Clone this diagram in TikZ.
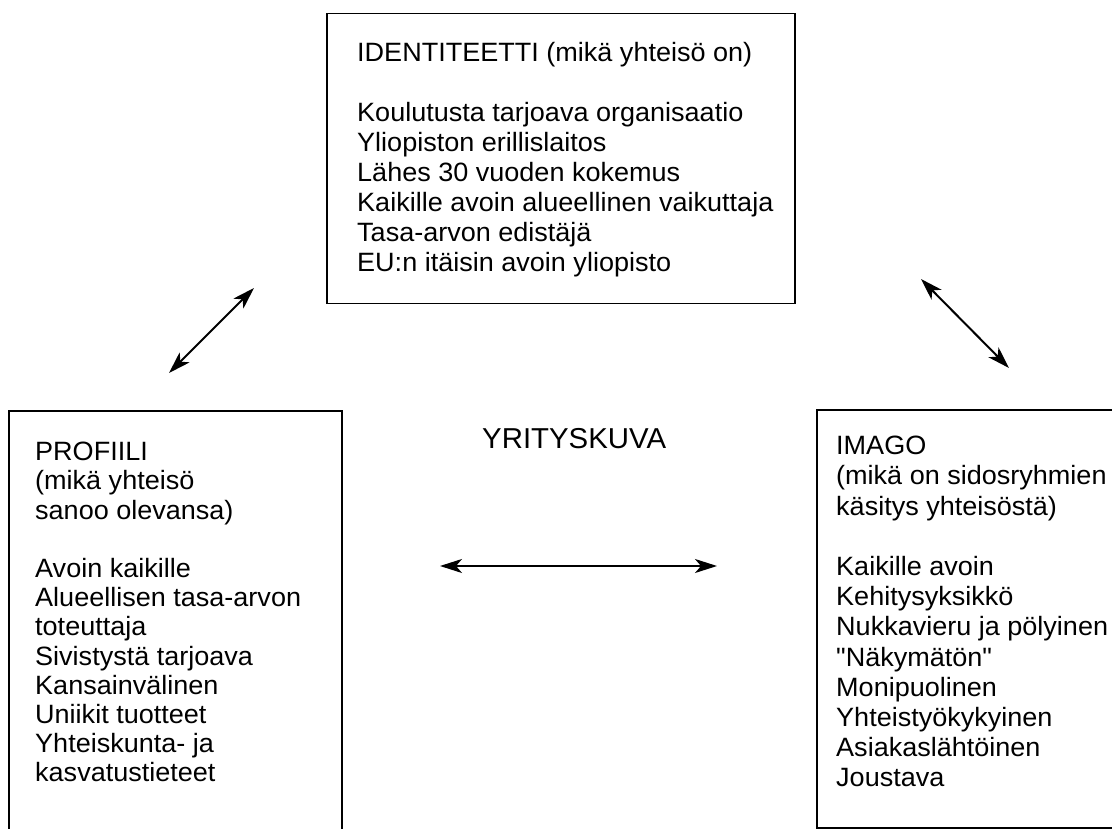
\documentclass[tikz,border=0pt]{standalone}
\usepackage{fontspec}
\setmainfont{Liberation Sans}[FakeStretch=1.02, Ligatures=TeXOff]
\usetikzlibrary{arrows.meta}
\tikzset{
  frame/.style={draw, line width=1.6pt, rectangle, inner sep=0pt},
  txt/.style={anchor=north west, align=left, inner sep=0pt, font={\fontsize{26.5}{30}\selectfont}},
  link/.style={line width=2pt, {Stealth[length=22pt,width=14pt,inset=6pt]}-{Stealth[length=22pt,width=14pt,inset=6pt]}}
}
\begin{document}
\begin{tikzpicture}[x=1pt,y=-1pt]
\useasboundingbox (0,0) rectangle (1112,829);
\clip (0,0) rectangle (1112,829);
% boxes
\node[frame, minimum width=468pt, minimum height=290pt] (identbox) at (561,158.5) {};
\node[frame, minimum width=333pt, minimum height=450pt] (profbox) at (175.5,636) {};
\node[frame, minimum width=320pt, minimum height=418pt] (imagobox) at (977,619) {};
% texts
\node[txt] (identtxt) at (357,42.5) {IDENTITEETTI (mikä yhteisö on)\\[30pt]
Koulutusta tarjoava organisaatio\\
Yliopiston erillislaitos\\
Lähes 30 vuoden kokemus\\
Kaikille avoin alueellinen vaikuttaja\\
Tasa-arvon edistäjä\\
EU:n itäisin avoin yliopisto};
\node[txt, font={\fontsize{26.5}{29.2}\selectfont}] (proftxt) at (35,442) {PROFIILI\\
(mikä yhteisö\\
sanoo olevansa)\\[29.2pt]
Avoin kaikille\\
Alueellisen tasa-arvon\\
toteuttaja\\
Sivistystä tarjoava\\
Kansainvälinen\\
Uniikit tuotteet\\
Yhteiskunta- ja\\
kasvatustieteet};
\node[txt, font={\fontsize{26.5}{30.2}\selectfont}] (imagotxt) at (836,436) {IMAGO\\
(mikä on sidosryhmien\\
käsitys yhteisöstä)\\[30.2pt]
Kaikille avoin\\
Kehitysyksikkö\\
Nukkavieru ja pölyinen\\
"Näkymätön"\\
Monipuolinen\\
Yhteistyökykyinen\\
Asiakaslähtöinen\\
Joustava};
\node[anchor=base west, inner sep=0pt, font={\fontsize{28.8}{32}\selectfont}] (title) at (482,448) {YRITYSKUVA};
% arrow ends
\coordinate (a1) at (169,373);
\coordinate (a2) at (254,288);
\coordinate (b1) at (921,279);
\coordinate (b2) at (1009,368);
\coordinate (c1) at (440,566);
\coordinate (c2) at (717,566);
\draw[link] (a1) -- (a2);
\draw[link] (b1) -- (b2);
\draw[link] (c1) -- (c2);
\end{tikzpicture}
\end{document}
